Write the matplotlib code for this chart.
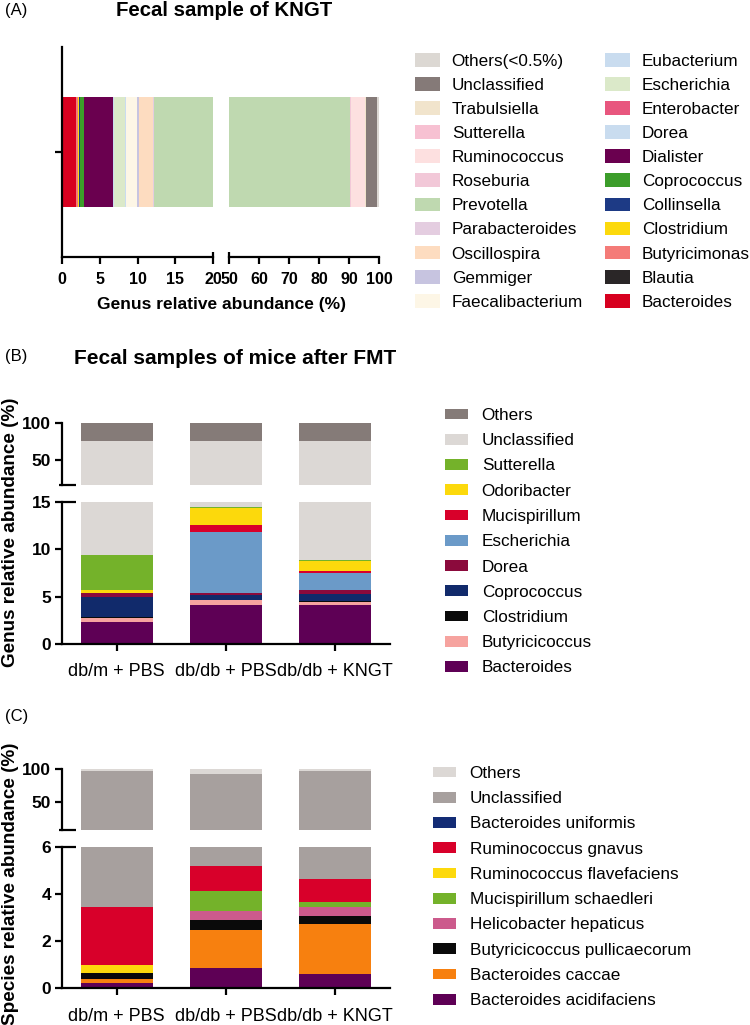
import matplotlib.pyplot as plt
import numpy as np
from matplotlib.patches import Patch

plt.rcParams['font.family'] = ['Liberation Sans', 'DejaVu Sans']

W, H = 750, 1025

# ---- Panel A: genus composition of KNGT (stacked left to right) ----
genus_a = ["Bacteroides", "Blautia", "Butyricimonas", "Clostridium", "Collinsella",
           "Coprococcus", "Dialister", "Dorea", "Enterobacter", "Escherichia",
           "Eubacterium", "Faecalibacterium", "Gemmiger", "Oscillospira",
           "Parabacteroides", "Prevotella", "Roseburia", "Ruminococcus",
           "Sutterella", "Trabulsiella", "Unclassified", "Others(<0.5%)"]
abund_a = [1.8, 0.1, 0.2, 0.15, 0.1, 0.5, 3.9, 0.1, 0.05, 1.5,
           0.05, 1.45, 0.3, 1.8, 0.2, 78.1, 0.2, 4.8, 0.1, 0.1, 3.7, 0.8]
colors_a = ["#d7001f", "#2a2627", "#f47b78", "#fcd90c", "#1d3a85",
            "#3c9d2a", "#6a004f", "#c9dcef", "#e8567e", "#dbe9c9",
            "#c9dcef", "#fdf6e6", "#c7c4e0", "#fddcc0",
            "#e4cde0", "#bfd9b0", "#f2c8d8", "#fde0e0",
            "#f7c1d2", "#f1e4cc", "#857a78", "#dcd8d3"]

# ---- Panel B: genus composition after FMT (stacked bottom to top) ----
groups = ["db/m + PBS", "db/db + PBS", "db/db + KNGT"]
genus_b = ["Bacteroides", "Butyricicoccus", "Clostridium", "Coprococcus", "Dorea",
           "Escherichia", "Mucispirillum", "Odoribacter", "Sutterella",
           "Unclassified", "Others"]
b_dbm_pbs = [2.35, 0.35, 0.1, 2.12, 0.48, 0.0, 0.0, 0.29, 3.72, 66.1, 24.5]
b_dbdb_pbs = [4.11, 0.5, 0.05, 0.5, 0.18, 6.43, 0.8, 1.73, 0.1, 60.9, 24.7]
b_dbdb_kngt = [4.1, 0.36, 0.1, 0.71, 0.39, 1.86, 0.14, 1.05, 0.14, 66.65, 24.5]
colors_b = ["#5e0055", "#f6a39f", "#0a0a0a", "#112a6b", "#8b0a3c",
            "#6b9ac8", "#d8002a", "#fcd90c", "#74b22a", "#dcd8d5", "#857b78"]

# ---- Panel C: species composition after FMT (stacked bottom to top) ----
species_c = ["Bacteroides acidifaciens", "Bacteroides caccae",
             "Butyricicoccus pullicaecorum", "Helicobacter hepaticus",
             "Mucispirillum schaedleri", "Ruminococcus flavefaciens",
             "Ruminococcus gnavus", "Bacteroides uniformis", "Unclassified", "Others"]
c_dbm_pbs = [0.24, 0.16, 0.25, 0.0, 0.0, 0.35, 2.46, 0.0, 94.5, 2.0]
c_dbdb_pbs = [0.86, 1.6, 0.45, 0.38, 0.85, 0.0, 1.06, 0.0, 88.2, 6.6]
c_dbdb_kngt = [0.62, 2.11, 0.33, 0.4, 0.18, 0.0, 0.98, 0.0, 92.9, 2.5]
colors_c = ["#5e0055", "#f7800f", "#0a0a0a", "#cc5a8c", "#74b22a",
            "#fdd90c", "#d8002a", "#132c75", "#a7a09e", "#dcd8d5"]

LW = 1.6
LEG_FS = 12.3


def px_axes(fig, x0, y0, x1, y1):
    return fig.add_axes([x0 / W, 1 - y1 / H, (x1 - x0) / W, (y1 - y0) / H])


def style(ax, bottom=True, left=True):
    for s in ["top", "right"]:
        ax.spines[s].set_visible(False)
    ax.spines["bottom"].set_visible(bottom)
    ax.spines["left"].set_visible(left)
    for s in ["bottom", "left"]:
        ax.spines[s].set_linewidth(LW)
    ax.tick_params(width=LW, length=5, color="black")


def cap(ax, xs, ys):
    # short line marking the ends of a broken axis
    ax.plot(xs, ys, transform=ax.transAxes, color="black", lw=LW,
            clip_on=False, solid_capstyle="butt")


def stacked_columns(ax, table, colors):
    x = np.arange(table.shape[1])
    bottoms = np.zeros(table.shape[1])
    for row, c in zip(table, colors):
        ax.bar(x, row, bottom=bottoms, width=0.66, color=c, linewidth=0)
        bottoms += row
    ax.set_xlim(-0.5, 2.5)


fig = plt.figure(figsize=(W / 100, H / 100), dpi=100)

# ---------------- Panel A ----------------
axl = px_axes(fig, 62, 47, 213, 257)
axr = px_axes(fig, 229, 47, 379, 257)
for ax, lim, ticks in [(axl, (0, 20), [0, 5, 10, 15, 20]),
                       (axr, (50, 100), [50, 60, 70, 80, 90, 100])]:
    left = 0.0
    for v, c in zip(abund_a, colors_a):
        ax.barh(0, v, left=left, height=1.04, color=c, linewidth=0)
        left += v
    ax.set_xlim(*lim)
    ax.set_ylim(-1, 1)
    ax.set_xticks(ticks)
    ax.set_xticklabels([str(t) for t in ticks], fontsize=11.5, fontweight="bold")
    ax.tick_params(axis="x", pad=6)
style(axl)
axl.set_yticks([0])
axl.set_yticklabels([""])
style(axr, left=False)
axr.set_yticks([])
cap(axl, [1, 1], [0, 0.026])
cap(axr, [0, 0], [0, 0.026])

fig.text(5 / W, 1 - 11 / H, "(A)", fontsize=12, va="center")
fig.text(224 / W, 1 - 10 / H, "Fecal sample of KNGT", fontsize=14.7,
         fontweight="bold", ha="center", va="center")
fig.text(221 / W, 1 - 304 / H, "Genus relative abundance (%)", fontsize=12.5,
         fontweight="bold", ha="center", va="center")

handles_a = [Patch(facecolor=c, label=g) for g, c in zip(genus_a, colors_a)][::-1]
fig.legend(handles=handles_a, loc="upper left", bbox_to_anchor=(415 / W, 1 - 53 / H),
           ncol=2, frameon=False, fontsize=LEG_FS, handlelength=1.45, handleheight=0.85,
           handletextpad=0.7, labelspacing=0.49, columnspacing=1.3,
           borderpad=0, borderaxespad=0)


def broken_panel(tops, table, colors, top_lim, bot_lim, top_ticks, bot_ticks):
    (t0, t1), (b0, b1) = tops
    axt = px_axes(fig, 62, t0, 390, t1)
    axb = px_axes(fig, 62, b0, 390, b1)
    for ax in (axt, axb):
        stacked_columns(ax, table, colors)
    axt.set_ylim(*top_lim)
    axb.set_ylim(*bot_lim)
    style(axt, bottom=False)
    style(axb)
    axt.set_xticks([])
    axt.set_yticks(top_ticks)
    axt.set_yticklabels([str(t) for t in top_ticks], fontsize=12.5, fontweight="bold")
    axb.set_yticks(bot_ticks)
    axb.set_yticklabels([str(t) for t in bot_ticks], fontsize=12.5, fontweight="bold")
    axb.set_xticks(range(len(groups)))
    axb.set_xticklabels(groups, fontsize=13)
    axb.tick_params(axis="x", pad=9)
    for ax in (axt, axb):
        ax.tick_params(axis="y", pad=3)
    cap(axt, [-0.009, 0.043], [0, 0])
    cap(axb, [0, 0.043], [1, 1])
    return axt, axb


# ---------------- Panel B ----------------
table_b = np.array([b_dbm_pbs, b_dbdb_pbs, b_dbdb_kngt]).T
broken_panel(((423.3, 485), (501.7, 644)), table_b, colors_b,
             (15, 100), (0, 15), [50, 100], [0, 5, 10, 15])
fig.text(5 / W, 1 - 357 / H, "(B)", fontsize=12, va="center")
fig.text(74 / W, 1 - 358 / H, "Fecal samples of mice after FMT", fontsize=15,
         fontweight="bold", ha="left", va="center")
fig.text(11 / W, 1 - 532 / H, "Genus relative abundance (%)", fontsize=13.6,
         fontweight="bold", rotation=90, ha="center", va="center")
handles_b = [Patch(facecolor=c, label=g) for g, c in zip(genus_b, colors_b)][::-1]
fig.legend(handles=handles_b, loc="upper left", bbox_to_anchor=(445 / W, 1 - 408 / H),
           frameon=False, fontsize=LEG_FS, handlelength=1.35, handleheight=0.6,
           handletextpad=0.8, labelspacing=0.6, borderpad=0, borderaxespad=0)

# ---------------- Panel C ----------------
table_c = np.array([c_dbm_pbs, c_dbdb_pbs, c_dbdb_kngt]).T
broken_panel(((769.3, 830), (846.7, 988.3)), table_c, colors_c,
             (8, 100), (0, 6), [50, 100], [0, 2, 4, 6])
fig.text(5 / W, 1 - 716 / H, "(C)", fontsize=12, va="center")
fig.text(11 / W, 1 - 884 / H, "Species relative abundance (%)", fontsize=13.6,
         fontweight="bold", rotation=90, ha="center", va="center")
handles_c = [Patch(facecolor=c, label=g) for g, c in zip(species_c, colors_c)][::-1]
fig.legend(handles=handles_c, loc="upper left", bbox_to_anchor=(433 / W, 1 - 766 / H),
           frameon=False, fontsize=LEG_FS, handlelength=1.35, handleheight=0.6,
           handletextpad=0.8, labelspacing=0.6, borderpad=0, borderaxespad=0)

fig.savefig("out.png", dpi=100)
plt.close(fig)
